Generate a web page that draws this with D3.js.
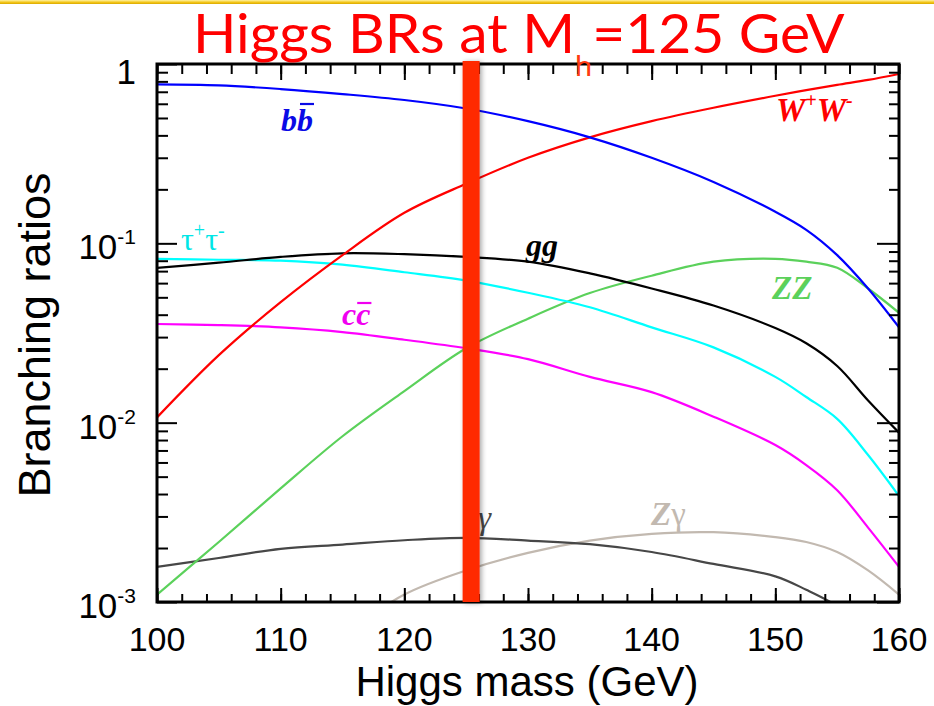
<!DOCTYPE html>
<html><head><meta charset="utf-8">
<script src="https://cdn.jsdelivr.net/npm/d3@7"></script>
<style>body{margin:0;background:#fff;overflow:hidden}svg{display:block}</style>
</head><body><svg id="c" width="934" height="706"></svg>
<script>
// ---------------- data ----------------
const masses  = [100,105,110,115,120,125,130,135,140,145,150,152.5,155,157.5,160];
const brBB    = [0.77,0.76,0.725,0.68,0.63,0.565,0.48,0.39,0.30,0.22,0.15,0.119,0.086,0.056,0.034];
const brWW    = [0.0107,0.0238,0.047,0.086,0.148,0.215,0.30,0.39,0.48,0.57,0.665,0.715,0.765,0.815,0.88];
const brGG    = [0.073,0.078,0.084,0.088,0.087,0.084,0.079,0.068,0.056,0.045,0.0337,0.0277,0.0207,0.0133,0.0088];
const brTauTau= [0.082,0.081,0.08,0.076,0.069,0.062,0.053,0.044,0.034,0.0263,0.018,0.0139,0.0105,0.0066,0.0039];
const brCC    = [0.0355,0.035,0.034,0.032,0.029,0.026,0.0226,0.018,0.0148,0.0108,0.0075,0.0058,0.0042,0.0026,0.00157];
const brZZ    = [0.0011,0.00216,0.0043,0.0084,0.015,0.026,0.038,0.0528,0.066,0.079,0.082,0.079,0.073,0.056,0.041];
const brGamGam= [0.00157,0.00176,0.00198,0.00209,0.00221,0.00228,0.0022,0.0021,0.0019,0.00163,0.00139,0.00117,0.00095,0.0007,0.0004];
const brZGam  = [null,null,null,0.00065,0.0011,0.0015,0.00188,0.0022,0.0024,0.00245,0.0023,0.00216,0.0019,0.0015,0.0011];
const xTickValues = [100,110,120,130,140,150,160];
const yTickValues = [1,0.1,0.01,0.001];
const yTickBase   = ["1","10","10","10"];
const yTickExp    = ["","-1","-2","-3"];
const higgsMass = 125.4;

const series = [
  {values: brZGam,   color:"#c2b9b0"},
  {values: brGamGam, color:"#474747"},
  {values: brZZ,     color:"#5bd15b"},
  {values: brCC,     color:"#ff00ff"},
  {values: brTauTau, color:"#00ffff"},
  {values: brGG,     color:"#000000"},
  {values: brWW,     color:"#ff0000"},
  {values: brBB,     color:"#0000ff"}
];

// ---------------- layout ----------------
const svg = d3.select("#c");
const L=157, R=899, T=64, B=602;
const x = d3.scaleLinear().domain([100,160]).range([L,R]);
const y = d3.scaleLog().domain([1e-3,1]).range([B,T]);

const defs = svg.append("defs");
const g1 = defs.append("linearGradient").attr("id","gold").attr("x1",0).attr("y1",0).attr("x2",0).attr("y2",1);
g1.append("stop").attr("offset","0%").attr("stop-color","#fff2a0");
g1.append("stop").attr("offset","60%").attr("stop-color","#f2c417");
g1.append("stop").attr("offset","100%").attr("stop-color","#d9a800");
defs.append("clipPath").attr("id","plotclip").append("rect")
  .attr("x",L).attr("y",T).attr("width",R-L).attr("height",B-T);
const f = defs.append("filter").attr("id","shadow").attr("x","-50%").attr("y","-5%").attr("width","200%").attr("height","110%");
f.append("feDropShadow").attr("dx",2).attr("dy",1).attr("stdDeviation",2.5).attr("flood-color","#000").attr("flood-opacity",0.35);

svg.append("rect").attr("x",0).attr("y",0).attr("width",934).attr("height",4).attr("fill","url(#gold)");

// ---------------- curves ----------------
const line = d3.line()
  .defined(d => d.v != null)
  .x(d => x(d.m)).y(d => y(d.v))
  .curve(d3.curveCatmullRom.alpha(0.5));
const curves = svg.append("g").attr("clip-path","url(#plotclip)");
series.forEach(s => {
  const pts = masses.map((m,i) => ({m, v: s.values[i]}));
  curves.append("path").attr("d", line(pts))
    .attr("fill","none").attr("stroke", s.color).attr("stroke-width",2.2);
});

// ---------------- axes / ticks ----------------
function styleAxis(g){ g.select(".domain").remove(); g.selectAll("line").attr("stroke","#000").attr("stroke-width",2); }
const majX = xTickValues, minX = d3.range(100,161,2);
const minY = [];
[0.001,0.01,0.1].forEach(d => { for(let k=2;k<=9;k++) minY.push(d*k); });
svg.append("g").attr("transform",`translate(0,${B})`).call(d3.axisBottom(x).tickValues(minX).tickSize(-8).tickFormat("")).call(styleAxis);
svg.append("g").attr("transform",`translate(0,${B})`).call(d3.axisBottom(x).tickValues(majX).tickSize(-14).tickFormat("")).call(styleAxis);
svg.append("g").attr("transform",`translate(0,${T})`).call(d3.axisTop(x).tickValues(minX).tickSize(-10).tickFormat("")).call(styleAxis);
svg.append("g").attr("transform",`translate(0,${T})`).call(d3.axisTop(x).tickValues(majX).tickSize(-16).tickFormat("")).call(styleAxis);
svg.append("g").attr("transform",`translate(${L},0)`).call(d3.axisLeft(y).tickValues(minY).tickSize(-11).tickFormat("")).call(styleAxis);
svg.append("g").attr("transform",`translate(${L},0)`).call(d3.axisLeft(y).tickValues(yTickValues).tickSize(-20).tickFormat("")).call(styleAxis);
svg.append("g").attr("transform",`translate(${R},0)`).call(d3.axisRight(y).tickValues(minY).tickSize(-10).tickFormat("")).call(styleAxis);
svg.append("g").attr("transform",`translate(${R},0)`).call(d3.axisRight(y).tickValues(yTickValues).tickSize(-22).tickFormat("")).call(styleAxis);
svg.append("rect").attr("x",L).attr("y",T).attr("width",R-L).attr("height",B-T)
  .attr("fill","none").attr("stroke","#000").attr("stroke-width",3);

const sans = "'Liberation Sans', Arial, Helvetica, sans-serif";
const serif = "'Liberation Serif', 'Times New Roman', serif";

// x tick labels
svg.append("g").selectAll("text").data(xTickValues).join("text")
  .attr("x", d => x(d)).attr("y", 651).attr("text-anchor","middle")
  .attr("font-family", sans).attr("font-size", 34).attr("fill","#000")
  .text(d => d);

// y tick labels
yTickValues.forEach((v,i) => {
  const t = svg.append("text").attr("x", 136).attr("y", y(v) + 16 + (i===0 ? 4 : 0))
    .attr("text-anchor","end").attr("font-family", sans).attr("font-size", 35).attr("fill","#000");
  t.append("tspan").text(yTickBase[i]);
  if (yTickExp[i]) t.append("tspan").attr("font-size",21).attr("dy",-15).text(yTickExp[i]);
});

// axis titles
svg.append("text").attr("x", 527).attr("y", 696).attr("text-anchor","middle")
  .attr("font-family", sans).attr("font-size", 42).attr("fill","#000").text("Higgs mass (GeV)");
svg.append("text").attr("transform","translate(50,335) rotate(-90)").attr("text-anchor","middle")
  .attr("font-family", sans).attr("font-size", 45).attr("fill","#000").text("Branching ratios");

// ---------------- curve labels ----------------
function barLabel(px, py, chars, size, color){
  const a = svg.append("text").attr("x",px).attr("y",py).attr("font-family",serif)
    .attr("font-style","italic").attr("font-weight","bold").attr("font-size",size).attr("fill",color).text(chars);
  const w = a.node().getComputedTextLength();
  const b = svg.append("text").attr("x",px+w).attr("y",py).attr("font-family",serif)
    .attr("font-style","italic").attr("font-weight","bold").attr("font-size",size).attr("fill",color).text(chars);
  const w2 = b.node().getComputedTextLength();
  return {x0: px+w, w: w2};
}
// b b-bar
const bb = barLabel(281, 131, "b", 32, "#0a0ae6");
svg.append("line").attr("x1", bb.x0+3).attr("x2", bb.x0+bb.w+1).attr("y1",104).attr("y2",104)
  .attr("stroke","#0a0ae6").attr("stroke-width",2.2);
// c c-bar
const cc = barLabel(342, 325, "c", 32, "#f000f0");
svg.append("line").attr("x1", cc.x0+1).attr("x2", cc.x0+cc.w+1).attr("y1",303).attr("y2",303)
  .attr("stroke","#f000f0").attr("stroke-width",2.2);

// W+W-
const ww = svg.append("text").attr("x",776).attr("y",121).attr("font-family",serif)
  .attr("font-style","italic").attr("font-weight","bold").attr("font-size",33).attr("fill","#ff0000");
ww.append("tspan").text("W");
ww.append("tspan").attr("font-size",20).attr("dy",-14).text("+");
ww.append("tspan").attr("dy",14).text("W");
ww.append("tspan").attr("font-size",20).attr("dy",-14).text("-");

// tau+ tau-
const tt = svg.append("text").attr("x",181).attr("y",250).attr("font-family",serif)
  .attr("font-size",32).attr("fill","#00e6e6");
tt.append("tspan").text("τ");
tt.append("tspan").attr("font-size",20).attr("dy",-13).text("+");
tt.append("tspan").attr("dy",13).text("τ");
tt.append("tspan").attr("font-size",20).attr("dy",-13).text("-");

// gg
svg.append("text").attr("x",526).attr("y",256).attr("font-family",serif)
  .attr("font-style","italic").attr("font-weight","bold").attr("font-size",32).attr("fill","#000").text("gg");
// ZZ
svg.append("text").attr("x",772).attr("y",299).attr("font-family",serif)
  .attr("font-style","italic").attr("font-weight","bold").attr("font-size",33).attr("fill","#5bd15b").text("ZZ");
// gamma gamma (partly behind bar)
svg.append("text").attr("x",465).attr("y",529).attr("font-family",serif)
  .attr("font-style","italic").attr("font-size",33).attr("fill","#474747").text("γγ");
// Z gamma
const zg = svg.append("text").attr("x",651).attr("y",525).attr("font-family",serif)
  .attr("font-size",33).attr("fill","#c2b9b0");
zg.append("tspan").attr("font-style","italic").attr("font-weight","bold").text("Z");
zg.append("tspan").text("γ");

// ---------------- Higgs mass bar ----------------
svg.append("rect").attr("x", x(higgsMass)-8.5).attr("y", 61).attr("width",17).attr("height", B-61)
  .attr("fill","#ff2a00").attr("filter","url(#shadow)");

// ---------------- title ----------------
const tg = svg.append("g");
const title = tg.append("text").attr("x",0).attr("y",0).attr("font-family","Lato, 'Open Sans', sans-serif")
  .attr("font-size",54).attr("fill","#ff0000");
title.append("tspan").text("Higgs BRs at M");
title.append("tspan").attr("font-size",29).attr("dy",23).attr("fill","#ff3a10").text("h");
title.append("tspan").attr("dy",-23).text("=125 GeV");
const bw = title.node().getBBox().width;
tg.attr("transform",`translate(193,53) scale(${652/bw},1)`);
</script>
</body></html>
